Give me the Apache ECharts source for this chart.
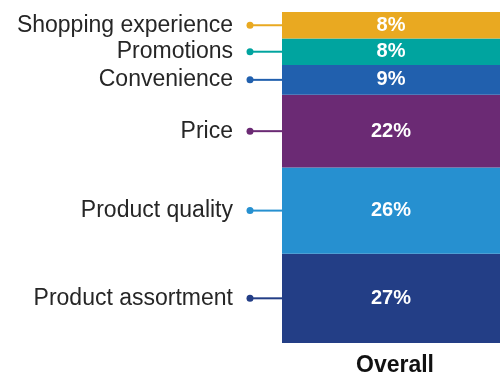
<!DOCTYPE html>
<html>
<head>
<meta charset="utf-8">
<script src="https://cdn.jsdelivr.net/npm/echarts@6/dist/echarts.min.js"></script>
<style>
  html, body { margin: 0; padding: 0; background: #fff; }
  #chart { width: 500px; height: 377px; }
</style>
</head>
<body>
<div id="chart"></div>
<script>
// Drivers of store choice, share of respondents (%), stacked bottom to top
const categories = ['Overall'];
const drivers = ['Product assortment', 'Product quality', 'Price', 'Convenience', 'Promotions', 'Shopping experience'];
const shares = [27, 26, 22, 9, 8, 8];
const colors = ['#233E86', '#2690D0', '#6B2A74', '#2160AE', '#00A49F', '#E9A921'];

const FONT = '"Liberation Sans", Arial, Helvetica, sans-serif';

// Stacked bar segments
const barSeries = drivers.map((name, i) => ({
  name: name,
  type: 'bar',
  stack: 'total',
  barWidth: '100%',
  data: [shares[i]],
  itemStyle: { color: colors[i] },
  label: {
    show: true,
    position: 'inside',
    formatter: p => p.value + '%',
    color: '#fff',
    fontFamily: FONT,
    fontWeight: 'bold',
    fontSize: 20
  },
  emphasis: { disabled: true }
}));

// Midpoint of each segment, for the callouts on the left
let running = 0;
const callouts = drivers.map((name, i) => {
  const mid = running + shares[i] / 2;
  running += shares[i];
  return { value: [0, mid], name: name, color: colors[i] };
});

const calloutSeries = {
  type: 'custom',
  silent: true,
  data: callouts,
  renderItem: function (params, api) {
    const item = callouts[params.dataIndex];
    const pt = api.coord([api.value(0), api.value(1)]);
    const band = api.size([1, 0])[0];
    const barLeft = pt[0] - band / 2;
    const dotX = barLeft - 32;
    return {
      type: 'group',
      children: [
        {
          type: 'line',
          shape: { x1: dotX, y1: pt[1], x2: barLeft, y2: pt[1] },
          style: { stroke: item.color, lineWidth: 2 }
        },
        {
          type: 'circle',
          shape: { cx: dotX, cy: pt[1], r: 3.5 },
          style: { fill: item.color }
        },
        {
          type: 'text',
          x: dotX - 17,
          y: pt[1],
          style: {
            text: item.name,
            align: 'right',
            verticalAlign: 'middle',
            fill: '#262626',
            font: '23px ' + FONT
          }
        }
      ]
    };
  }
};

const chart = echarts.init(document.getElementById('chart'));
chart.setOption({
  animation: false,
  grid: { left: 282, right: 0, top: 12, bottom: 34 },
  xAxis: {
    type: 'category',
    data: categories,
    axisLine: { show: false },
    axisTick: { show: false },
    axisLabel: {
      color: '#111',
      fontFamily: FONT,
      fontWeight: 'bold',
      fontSize: 23,
      margin: 11,
      padding: [0, 0, 0, 8]
    }
  },
  yAxis: {
    type: 'value',
    min: 0,
    max: 100,
    show: false
  },
  series: barSeries.concat([calloutSeries])
});
</script>
</body>
</html>
